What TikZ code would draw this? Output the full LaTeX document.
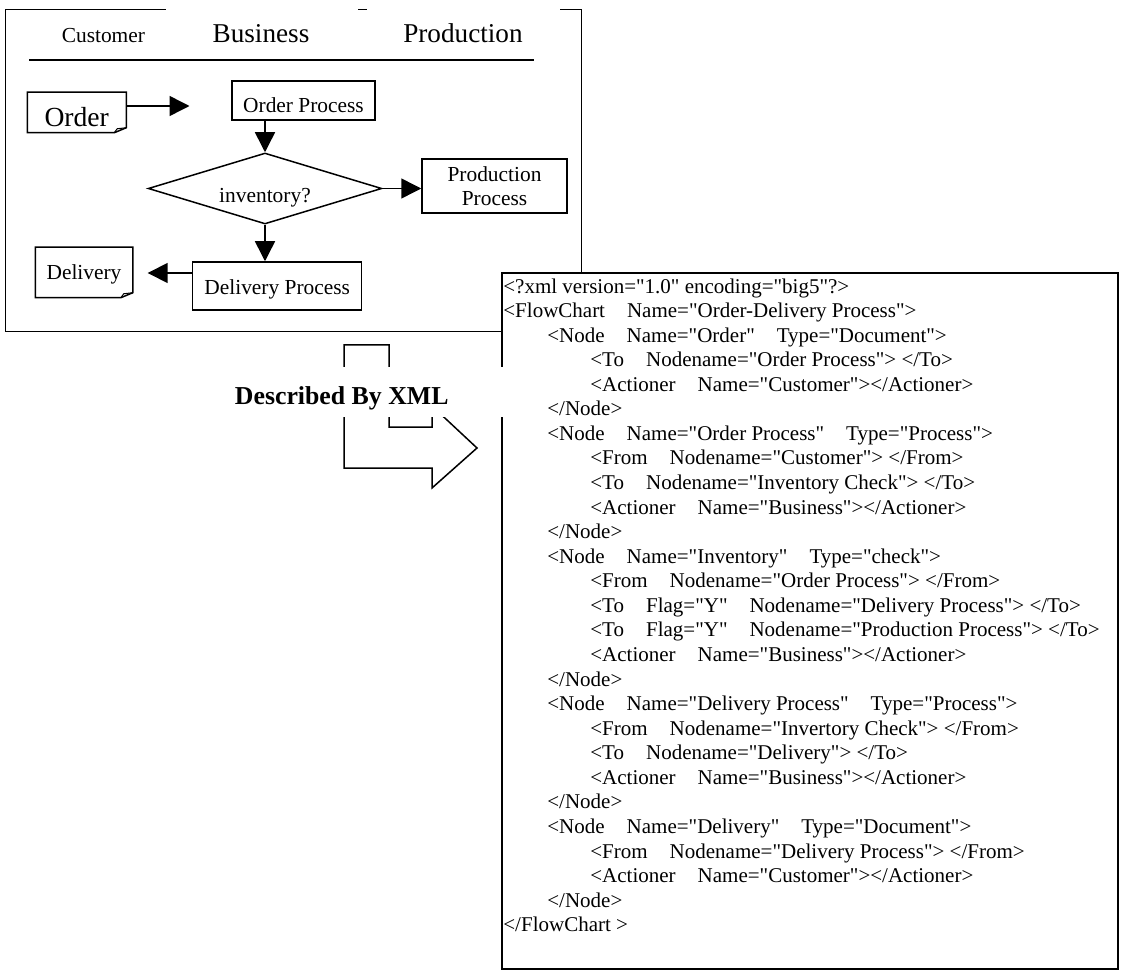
\documentclass[tikz,border=0pt]{standalone}
\usepackage{fontspec}
\setmainfont{Liberation Serif}[Ligatures=TeXOff]
\usetikzlibrary{arrows.meta,shapes.geometric}
% document symbol with a folded corner
\newcommand\docframe[1]{%
  \draw[line width=0.75pt] (#1.north west) -- (#1.north east) -- ([yshift=2.5pt]#1.south east)
    -- ([xshift=-6pt]#1.south east) -- (#1.south west) -- cycle;
  \draw[line width=0.5pt] ([xshift=-6pt]#1.south east) -- ([xshift=-4.5pt,yshift=2pt]#1.south east)
    -- ([yshift=2.5pt]#1.south east);}
\newcommand\gap{\hspace{11pt}}
\newcommand\xlvla{\hspace*{22pt}}
\newcommand\xlvlb{\hspace*{43.5pt}}
\begin{document}
\begin{tikzpicture}[x=0.5pt,y=-0.5pt,
    box/.style={draw,line width=0.75pt,inner sep=0pt,text depth=0pt,
      font=\fontsize{10.7}{12}\selectfont},
    flow/.style={line width=0.75pt,-{Triangle[length=10pt,width=10pt]}},
    lane/.style={anchor=base,font=\fontsize{13.6}{16}\selectfont}]
  \useasboundingbox (0,0) rectangle (1132,979);
  % flow chart frame
  \draw[line width=0.75pt] (358,9.3) -- (366.5,9.3);
  \draw[line width=0.75pt] (560,9.3) -- (581.7,9.3) -- (581.7,331.5) -- (5.5,331.5) -- (5.5,9.3) -- (166,9.3);
  \node[lane,font=\fontsize{10.7}{12}\selectfont] (cust) at (103.4,43) {Customer};
  \node[lane] (busi) at (261,43) {Business};
  \node[lane] (prodn) at (463,43) {Production};
  \draw[line width=0.75pt] (29,60) -- (534,60);
  % nodes
  \node[box,draw=none,minimum width=48.75pt,minimum height=19.5pt,text height=14.5pt,
    font=\fontsize{13.8}{16}\selectfont] (order) at (76.75,112.5) {Order};
  \docframe{order}
  \node[box,minimum width=71.5pt,minimum height=19.5pt,text height=12.5pt] (op) at (303.5,100.5) {Order Process};
  \node[box,diamond,aspect=3.3,minimum width=116.8pt,minimum height=35.5pt,text height=14.5pt] (inv) at (265,188.5) {inventory?};
  \node[box,align=center,text depth=,minimum width=72.5pt,minimum height=27pt] (prod) at (494.5,186) {Production\\Process};
  \node[box,minimum width=84.5pt,minimum height=24pt,text height=9pt] (dp) at (277.2,286) {Delivery Process};
  \node[box,draw=none,minimum width=48pt,minimum height=24.5pt,text height=7.5pt] (deliv) at (84,272.5) {Delivery};
  \docframe{deliv}
  % connectors
  \coordinate (ordtip) at (189.5,106);
  \coordinate (dvtip) at (147.7,273);
  \draw[flow] (order.east |- ordtip) -- (ordtip);
  \draw[flow] (op.south -| inv.north) -- (inv.north);
  \draw[flow] (inv.east) -- (inv.east -| prod.west);
  \draw[flow] (inv.south) -- (inv.south |- dp.north);
  \draw[flow] (dp.west |- dvtip) -- (dvtip);
  % xml listing
  \draw[line width=1pt,fill=white] (502,273) rectangle (1118,969);
  \draw[line width=0.75pt] (344,345) -- (389,345) -- (389,427) -- (432,427) -- (432,406) -- (477,448)
    -- (432,488) -- (432,468) -- (344,468) -- cycle;
  \fill[white] (225,367) rectangle (504,417);
  \node[anchor=base,font=\bfseries\fontsize{12.9}{14}\selectfont] (desc) at (341.7,405) {Described By XML};
  \foreach \txt [count=\i] in {
      {<?xml version="1.0" encoding="big5"?>},
      {<FlowChart\gap Name="Order-Delivery Process">},
      {\xlvla<Node\gap Name="Order"\gap Type="Document">},
      {\xlvlb<To\gap Nodename="Order Process"> </To>},
      {\xlvlb<Actioner\gap Name="Customer"></Actioner>},
      {\xlvla</Node>},
      {\xlvla<Node\gap Name="Order Process"\gap Type="Process">},
      {\xlvlb<From\gap Nodename="Customer"> </From>},
      {\xlvlb<To\gap Nodename="Inventory Check"> </To>},
      {\xlvlb<Actioner\gap Name="Business"></Actioner>},
      {\xlvla</Node>},
      {\xlvla<Node\gap Name="Inventory"\gap Type="check">},
      {\xlvlb<From\gap Nodename="Order Process"> </From>},
      {\xlvlb<To\gap Flag="Y"\gap Nodename="Delivery Process"> </To>},
      {\xlvlb<To\gap Flag="Y"\gap Nodename="Production Process"> </To>},
      {\xlvlb<Actioner\gap Name="Business"></Actioner>},
      {\xlvla</Node>},
      {\xlvla<Node\gap Name="Delivery Process"\gap Type="Process">},
      {\xlvlb<From\gap Nodename="Invertory Check"> </From>},
      {\xlvlb<To\gap Nodename="Delivery"> </To>},
      {\xlvlb<Actioner\gap Name="Business"></Actioner>},
      {\xlvla</Node>},
      {\xlvla<Node\gap Name="Delivery"\gap Type="Document">},
      {\xlvlb<From\gap Nodename="Delivery Process"> </From>},
      {\xlvlb<Actioner\gap Name="Customer"></Actioner>},
      {\xlvla</Node>},
      {</FlowChart >}}
    \node[anchor=base west,inner sep=0pt,font=\fontsize{10.5}{12.3}\selectfont] (xl\i) at (503,{293+(\i-1)*24.57}) {\txt};
\end{tikzpicture}
\end{document}
